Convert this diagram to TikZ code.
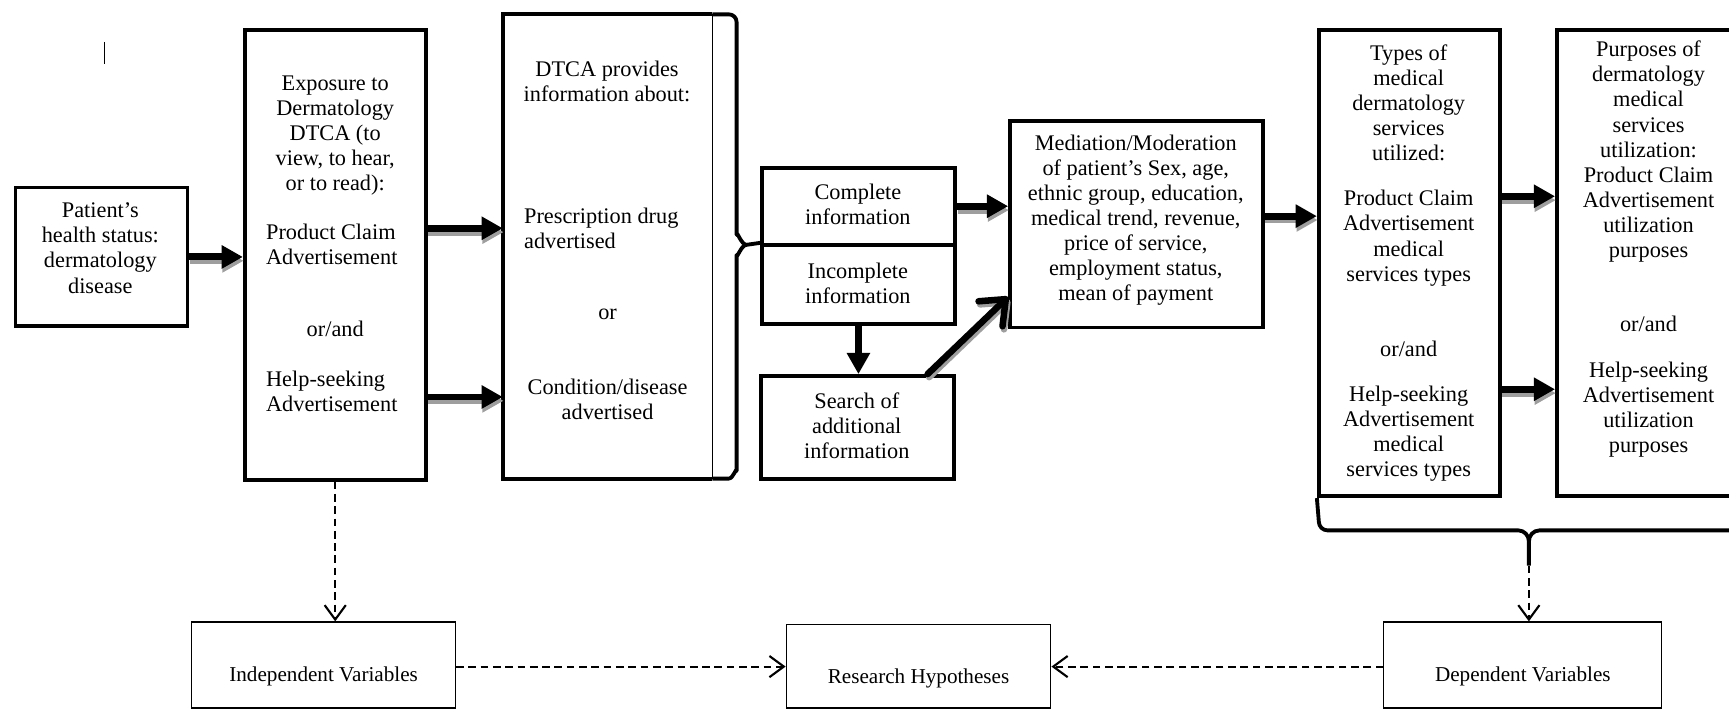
\documentclass[tikz,border=0pt]{standalone}
\usepackage{fontspec}
\setmainfont{Liberation Serif}
\usetikzlibrary{arrows.meta,calc}
\definecolor{shadowgray}{gray}{0.62}
\def\u{0.5734pt}
\newcommand\mkbox[6]{\node[#6, minimum width={(#4-#2)*\u}, minimum height={(#5-#3)*\u}] (#1) at ({(#2+#4)/2},{(#3+#5)/2}) {};}
\tikzset{
 box/.style={draw, line width=2pt, inner sep=0pt},
 tbox/.style={draw, line width=0.6pt, inner sep=0pt},
 txt/.style={inner sep=0pt, align=center, font=\fontsize{11.6}{13.05}\selectfont},
 ltxt/.style={txt, align=left, anchor=west},
 stxt/.style={inner sep=0pt, font=\fontsize{11}{13}\selectfont},
 fat/.style={line width=3.6pt, -{Triangle[length=11pt,width=11.5pt]}},
 fatshadow/.style={fat, draw=shadowgray, fill=shadowgray, transform canvas={shift={(0.4pt,-2pt)}}},
 barb/.style={line width=3.4pt, line cap=round, -{Straight Barb[length=11pt,width=18pt,line cap=round,line join=round]}},
 barbshadow/.style={barb, draw=shadowgray, transform canvas={shift={(0.8pt,-1.6pt)}}},
 dasharrow/.style={line width=1.1pt, dash pattern=on 4pt off 2.4pt, -{Straight Barb[length=7.5pt,width=11pt,line width=1.1pt]}},
 bracepath/.style={line width=2pt, line join=round},
}
\begin{document}
\begin{tikzpicture}[x=0.5734pt, y=-0.5734pt]
\useasboundingbox (0,0) rectangle (1568,643);

% stray mark
\draw[line width=0.6pt] (95,38) -- (95,58);

% boxes
\mkbox{pat}{14}{170}{170}{296}{box}
\mkbox{exp}{222}{27}{386}{435}{box}
\mkbox{dtca}{456}{13}{646}{434}{inner sep=0pt, outer sep=0pt}
\mkbox{comp}{691}{152}{866}{222}{box}
\mkbox{inc}{691}{222}{866}{294}{box}
\mkbox{srch}{690}{341}{865}{434}{box}
\mkbox{med}{916}{110}{1145}{297}{box}
\mkbox{types}{1196}{27}{1360}{450}{box}
\mkbox{purp}{1412}{27}{1592}{450}{box}
\mkbox{indep}{174}{564}{413}{642}{tbox}
\mkbox{res}{713}{566}{953}{642}{tbox}
\mkbox{dep}{1255}{564}{1507}{642}{tbox}

% DTCA box with brace
\draw[line width=2pt, line join=miter] (dtca.north east) -- (dtca.north west) -- (dtca.south west) -- (dtca.south east);
\draw[line width=0.8pt] (dtca.north east) -- (dtca.south east);
\draw[bracepath] (dtca.north east) -- (661,13) to[out=0,in=90] (668,20) -- (668,213)
  to[out=90,in=180] (677,222) -- (inc.north west);
\draw[bracepath] (677,222) to[out=180,in=-90] (668,231) -- (668,427) to[out=90,in=0] (661,434) -- (dtca.south east);

% brace under types / purposes
\draw[bracepath] (types.south west) -- (1196,473) to[out=-90,in=180] (1204,481) -- (1377,481)
  to[out=0,in=90] (1386.5,491) -- (1386.5,513);
\draw[bracepath] (1386.5,491) to[out=90,in=180] (1396,481) -- (1600,481);
\coordinate (bt) at (1386.5,513);

% texts
\node[txt] (tpat) at (91,225) {Patient’s\\health status:\\dermatology\\disease};
\node[txt] (texp1) at (304,123) {Exposure to\\Dermatology\\DTCA (to\\view, to hear,\\or to read):};
\node[ltxt] (texp2) at (241,222) {Product Claim\\Advertisement};
\node[txt] (texp3) at (304,298) {or/and};
\node[ltxt] (texp4) at (241,355) {Help-seeking\\Advertisement};
\node[txt] (tdt1) at (550.5,73.5) {DTCA provides\\information about:};
\node[ltxt] (tdt2) at (475,207) {Prescription drug\\advertised};
\node[txt] (tdt3) at (551,285) {or};
\node[txt] (tdt4) at (551,362.5) {Condition/disease\\advertised};
\node[txt] (tcomp) at (778,185) {Complete\\information};
\node[txt] (tinc) at (778,257) {Incomplete\\information};
\node[txt] (tsrch) at (777,386) {Search of\\additional\\information};
\node[txt] (tmed) at (1030,199.5) {Mediation/Moderation\\of patient’s Sex, age,\\ethnic group, education,\\medical trend, revenue,\\price of service,\\employment status,\\mean of payment};
\node[txt] (tty1) at (1277.5,93.5) {Types of\\medical\\dermatology\\services\\utilized:};
\node[txt] (tty2) at (1277.5,216) {Product Claim\\Advertisement\\medical\\services types};
\node[txt] (tty3) at (1277.5,316) {or/and};
\node[txt] (tty4) at (1277.5,393.5) {Help-seeking\\Advertisement\\medical\\services types};
\node[txt] (tpu1) at (1495,137.5) {Purposes of\\dermatology\\medical\\services\\utilization:\\Product Claim\\Advertisement\\utilization\\purposes};
\node[txt] (tpu2) at (1495,294) {or/and};
\node[txt] (tpu3) at (1495,371.5) {Help-seeking\\Advertisement\\utilization\\purposes};
\node[stxt] (tind) at (293.5,613) {Independent Variables};
\node[stxt] (tres) at (833,615) {Research Hypotheses};
\node[stxt] (tdep) at (1381,613) {Dependent Variables};

% helper heights
\coordinate (h1) at (0,233);
\coordinate (h2) at (0,207);
\coordinate (h3) at (0,360);
\coordinate (h4) at (0,187);
\coordinate (h5) at (0,196);
\coordinate (h6) at (0,178);
\coordinate (h7) at (0,353);
\coordinate (h8) at (0,604.5);

% thick arrows with shadow
\foreach \a/\b/\h in {pat/exp/h1, exp/dtca/h2, exp/dtca/h3, comp/med/h4, med/types/h5, types/purp/h6, types/purp/h7}{
  \draw[fatshadow] (\a.east |- \h) -- (\b.west |- \h);
  \draw[fat] (\a.east |- \h) -- (\b.west |- \h);
}
\draw[fat] (inc.south) -- (inc.south |- srch.north);
\coordinate (ds) at ($(srch.north east)!0.143!(srch.north west)$);
\coordinate (de) at ($(med.north west)!0.845!(med.south west)$);
\draw[barbshadow] (ds) -- (de);
\draw[barb] (ds) -- (de);

% dashed arrows
\draw[dasharrow] (exp.south) -- (exp.south |- indep.north);
\draw[dasharrow] (bt) -- (bt |- dep.north);
\draw[dasharrow] (indep.east |- h8) -- (res.west |- h8);
\draw[dasharrow] (dep.west |- h8) -- (res.east |- h8);
\end{tikzpicture}
\end{document}
